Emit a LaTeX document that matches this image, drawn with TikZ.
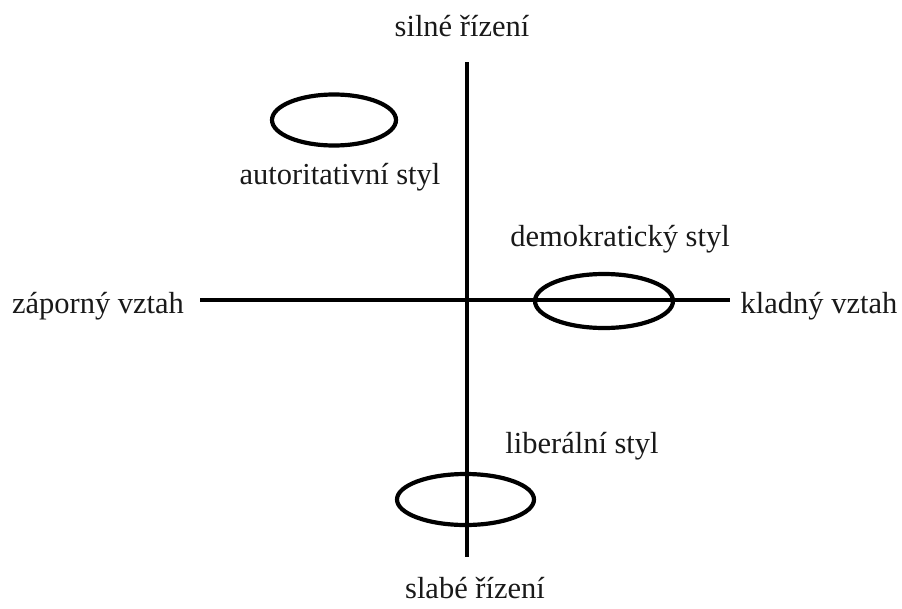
\documentclass[tikz,border=0pt]{standalone}
\usepackage{fontspec}
\setmainfont{Liberation Serif}
\begin{document}
\begin{tikzpicture}[x=1pt,y=-1pt,
  axis/.style={line width=4.2pt},
  oval/.style={line width=4.2pt},
  lbl/.style={anchor=base,inner sep=0pt,font=\fontsize{30.5}{35}\selectfont,text=black!90}]
\useasboundingbox (0,0) rectangle (902,608);
% axes
\coordinate (top) at (467,62);
\coordinate (bottom) at (467,557);
\coordinate (left) at (200,300);
\coordinate (right) at (730,300);
\draw[axis] (top) -- (bottom);
\draw[axis] (left) -- (right);
% axis labels
\node[lbl] (silne) at (462,36) {silné řízení};
\node[lbl] (slabe) at (475,598) {slabé řízení};
\node[lbl] (zaporny) at (98,313) {záporný vztah};
\node[lbl] (kladny) at (819,313) {kladný vztah};
% leadership styles
\draw[oval] (334,120) ellipse [x radius=62, y radius=25.5];
\node[lbl] (autor) at (340,184) {autoritativní styl};
\draw[oval] (604,301) ellipse [x radius=69, y radius=27];
\node[lbl] (demo) at (620,246) {demokratický styl};
\draw[oval] (465.5,499.5) ellipse [x radius=68.5, y radius=25.5];
\node[lbl] (liber) at (582,453) {liberální styl};
\end{tikzpicture}
\end{document}
